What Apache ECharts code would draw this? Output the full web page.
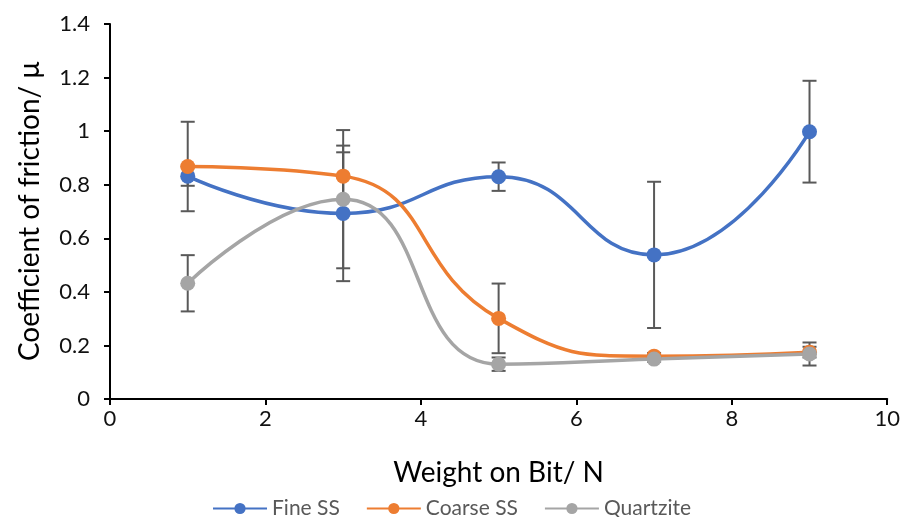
<!DOCTYPE html>
<html>
<head>
<meta charset="utf-8">
<script src="https://cdn.jsdelivr.net/npm/echarts@6/dist/echarts.min.js"></script>
<style>html,body{margin:0;padding:0;background:#fff}#c{width:903px;height:517px}</style>
</head>
<body>
<div id="c"></div>
<script>
const xValues = [1, 3, 5, 7, 9];
const fineSS = [0.832, 0.693, 0.830, 0.538, 0.998];
const fineErr = [0.036, 0.253, 0.053, 0.273, 0.190];
const coarseSS = [0.868, 0.832, 0.301, 0.160, 0.175];
const coarseErr = [0.167, 0.089, 0.130, 0.012, 0.020];
const quartzite = [0.432, 0.746, 0.130, 0.149, 0.168];
const quartziteErr = [0.105, 0.258, 0.025, 0.010, 0.043];
const xTicks = [0, 2, 4, 6, 8, 10];
const yTicks = [0, 0.2, 0.4, 0.6, 0.8, 1, 1.2, 1.4];

const FONT = 'Lato';
const colors = ['#4472C4', '#ED7D31', '#A5A5A5'];

function pairs(vals) { return xValues.map((x, i) => [x, vals[i]]); }
function errData(vals, errs) { return xValues.map((x, i) => [x, vals[i] - errs[i], vals[i] + errs[i]]); }

function errSeries(vals, errs) {
  return {
    type: 'custom',
    silent: true,
    z: 1,
    data: errData(vals, errs),
    renderItem: function (params, api) {
      const x = api.value(0);
      const lo = api.coord([x, api.value(1)]);
      const hi = api.coord([x, api.value(2)]);
      const w = 7;
      const st = { stroke: '#595959', lineWidth: 2 };
      return {
        type: 'group',
        children: [
          { type: 'line', shape: { x1: lo[0], y1: lo[1], x2: hi[0], y2: hi[1] }, style: st },
          { type: 'line', shape: { x1: lo[0] - w, y1: lo[1], x2: lo[0] + w, y2: lo[1] }, style: st },
          { type: 'line', shape: { x1: hi[0] - w, y1: hi[1], x2: hi[0] + w, y2: hi[1] }, style: st }
        ]
      };
    }
  };
}

function lineSeries(name, vals, color) {
  return {
    name: name,
    type: 'line',
    smooth: 0.5,
    z: 3,
    data: pairs(vals),
    symbol: 'circle',
    symbolSize: 15,
    lineStyle: { color: color, width: 3.5 },
    itemStyle: { color: color },
    emphasis: { disabled: true }
  };
}

const chart = echarts.init(document.getElementById('c'), null, { renderer: 'canvas' });
chart.setOption({
  animation: false,
  color: colors,
  grid: { left: 110, right: 15, top: 24, bottom: 118 },
  legend: {
    data: ['Fine SS', 'Coarse SS', 'Quartzite'],
    top: 493,
    left: 'center',
    itemWidth: 54,
    itemHeight: 14,
    itemGap: 26,
    textStyle: { fontFamily: FONT, fontSize: 21, color: '#595959' }
  },
  xAxis: {
    type: 'value',
    min: xTicks[0],
    max: xTicks[xTicks.length - 1],
    interval: 2,
    name: 'Weight on Bit/ N',
    nameLocation: 'middle',
    nameGap: 60,
    nameTextStyle: { fontFamily: FONT, fontSize: 28, color: '#000' },
    axisLine: { lineStyle: { color: '#000', width: 2 } },
    axisTick: { show: true, length: 6, lineStyle: { color: '#000', width: 2 } },
    axisLabel: { fontFamily: FONT, fontSize: 22, color: '#111', margin: 9 },
    splitLine: { show: false }
  },
  yAxis: {
    type: 'value',
    min: yTicks[0],
    max: yTicks[yTicks.length - 1],
    interval: 0.2,
    name: 'Coefficient of friction/ μ',
    nameLocation: 'middle',
    nameGap: 66,
    nameTextStyle: { fontFamily: FONT, fontSize: 28, color: '#000' },
    axisLine: { show: true, lineStyle: { color: '#000', width: 2 } },
    axisTick: { show: true, length: 6, lineStyle: { color: '#000', width: 2 } },
    axisLabel: { fontFamily: FONT, fontSize: 22, color: '#111', margin: 20 },
    splitLine: { show: false }
  },
  series: [
    errSeries(fineSS, fineErr),
    errSeries(coarseSS, coarseErr),
    errSeries(quartzite, quartziteErr),
    lineSeries('Fine SS', fineSS, colors[0]),
    lineSeries('Coarse SS', coarseSS, colors[1]),
    lineSeries('Quartzite', quartzite, colors[2])
  ]
});
</script>
</body>
</html>
